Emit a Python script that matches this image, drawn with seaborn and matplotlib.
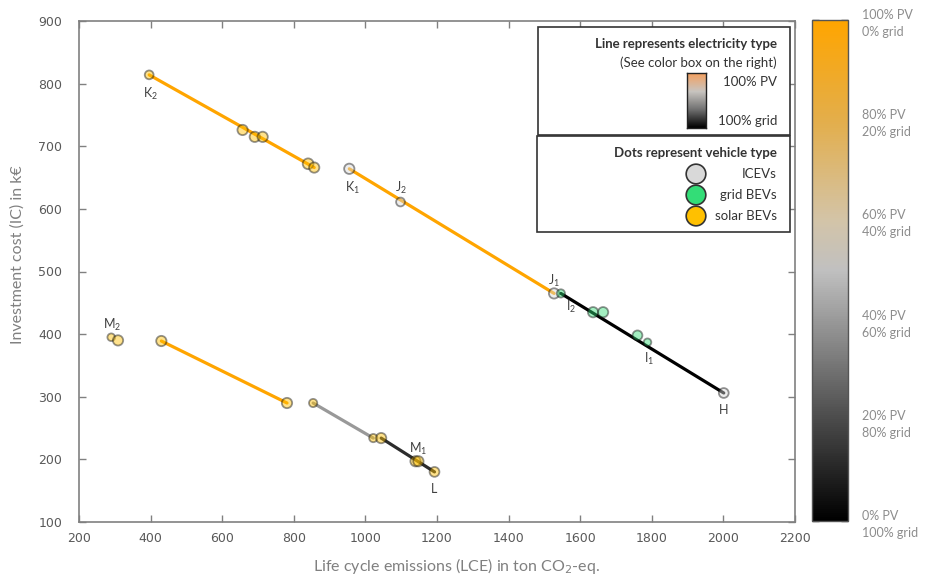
import numpy as np
import pandas as pd
import matplotlib
matplotlib.use("Agg")
import matplotlib.pyplot as plt
import seaborn as sns
from matplotlib.colors import LinearSegmentedColormap, Normalize
from matplotlib.patches import Rectangle
import matplotlib.colorbar as mcolorbar

# ---------------- data ----------------
point_names = ["K2", "a1", "a2", "a3", "a4", "a5", "K1", "J2", "J1", "I2", "b1", "b2", "b3", "I1", "H",
               "M2", "c1", "c2", "c3", "c4", "c5", "c6", "M1", "c7", "L"]
lce = [396, 657, 691, 713, 840, 857, 955, 1098, 1527, 1546, 1636, 1664, 1760, 1788, 2001,
       290, 309, 430, 781, 854, 1022, 1044, 1140, 1148, 1193]
ic = [814, 726, 715, 715, 672, 666, 664, 611, 465, 465, 435, 435, 398, 387, 306,
      395, 390, 389, 290, 290, 234, 234, 197, 197, 180]
vtype = ["solar BEVs"] * 6 + ["ICEVs", "ICEVs", "ICEVs"] + ["grid BEVs"] * 5 + ["ICEVs"] + ["solar BEVs"] * 10
msize = [40, 55, 55, 55, 60, 55, 55, 40, 55, 35, 55, 55, 50, 30, 50,
         30, 55, 55, 55, 35, 35, 55, 55, 55, 50]

# line segments: start point, end point, PV share (%)
seg_start = ["K2", "K1", "I2", "c2", "c4", "c6"]
seg_end = ["a5", "J1", "H", "c3", "c5", "L"]
seg_pv = [100, 100, 0, 100, 40, 12]

labels_txt = {"K2": r"$\mathregular{K_2}$", "K1": r"$\mathregular{K_1}$", "J2": r"$\mathregular{J_2}$",
              "J1": r"$\mathregular{J_1}$", "I2": r"$\mathregular{I_2}$", "I1": r"$\mathregular{I_1}$",
              "H": "H", "M2": r"$\mathregular{M_2}$", "M1": r"$\mathregular{M_1}$", "L": "L"}
label_offsets = {"K2": (1, -14), "K1": (2, -14), "J2": (0, 10), "J1": (0, 9), "I2": (7, -10),
                 "I1": (1, -12), "H": (0, -12), "M2": (1, 9), "M1": (2, 9), "L": (0, -12)}

cbar_ticks = [0, 20, 40, 60, 80, 100]
cbar_labels = ["0% PV\n100% grid", "20% PV\n80% grid", "40% PV\n60% grid",
               "60% PV\n40% grid", "80% PV\n20% grid", "100% PV\n0% grid"]

type_colors = {"ICEVs": "#D9D9D9", "grid BEVs": "#33DD77", "solar BEVs": "#FFC000"}

df = pd.DataFrame({"name": point_names, "LCE": lce, "IC": ic, "type": vtype, "size": msize})

# ---------------- style ----------------
sns.set_theme(style="white")
plt.rcParams["font.family"] = ["DejaVu Sans"]
LABEL_FONT = ["Lato", "DejaVu Sans"]

W, H = 925, 577
fig = plt.figure(figsize=(W / 100, H / 100), dpi=100)
fig.patch.set_facecolor("white")

def fx(px):
    return px / W

def fy(py):
    return 1 - py / H

ax = fig.add_axes([fx(79), fy(522), fx(795) - fx(79), fy(21) - fy(522)])

pv_cmap = LinearSegmentedColormap.from_list(
    "pv", [(0.0, "#000000"), (0.2, "#4A4A4A"), (0.4, "#999999"), (0.5, "#C0C0C0"),
           (0.6, "#D3C4A8"), (0.8, "#E3AE4B"), (1.0, "#FFA500")])

# lines
for s, e, pv in zip(seg_start, seg_end, seg_pv):
    sub = df[df["name"].isin([s, e])]
    sns.lineplot(data=sub, x="LCE", y="IC", ax=ax, color=pv_cmap(pv / 100), lw=2.3,
                 sort=False, estimator=None, zorder=2, legend=False)

# points
sns.scatterplot(data=df, x="LCE", y="IC", hue="type", palette=type_colors, size="size",
                sizes=(min(msize), max(msize)), size_norm=(min(msize), max(msize)),
                alpha=0.45, edgecolor="#111111", linewidth=1.3, ax=ax, legend=False, zorder=3)

# point labels
for nm, txt in labels_txt.items():
    r = df[df["name"] == nm].iloc[0]
    ax.annotate(txt, (r["LCE"], r["IC"]), xytext=label_offsets[nm], textcoords="offset points",
                ha="center", va="center", fontsize=9, color="#404040", family=LABEL_FONT)

ax.set_xlim(200, 2200)
ax.set_ylim(100, 900)
ax.set_xticks(range(200, 2201, 200))
ax.set_yticks(range(100, 901, 100))
ax.tick_params(axis="both", direction="in", length=5, width=1, color="#808080",
               labelsize=9, labelcolor="#595959", top=True, right=True, bottom=True, left=True)
ax.tick_params(axis="x", pad=7)
ax.tick_params(axis="y", pad=12)
for sp in ax.spines.values():
    sp.set_visible(True)
    sp.set_color("#808080")
    sp.set_linewidth(1.2)
ax.set_xlabel("")
ax.set_ylabel("")
ax.grid(False)

fig.text(fx(457), fy(566), r"Life cycle emissions (LCE) in ton CO$_2$-eq.", ha="center", va="center",
         fontsize=11.5, color="#808080", family=LABEL_FONT)
fig.text(fx(18), fy(255), "Investment cost (IC) in k€", ha="center", va="center", rotation=90,
         fontsize=11.5, color="#808080", family=LABEL_FONT)

# ---------------- legend boxes ----------------
box_kw = dict(transform=fig.transFigure, fill=True, facecolor="white", edgecolor="#333333",
              linewidth=1.2, zorder=5)
fig.patches.append(Rectangle((fx(538), fy(135)), fx(790) - fx(538), fy(27) - fy(135), **box_kw))
fig.patches.append(Rectangle((fx(537), fy(232)), fx(790) - fx(537), fy(136) - fy(232), **box_kw))

tx = fx(777)
tkw = dict(ha="right", va="center", family=LABEL_FONT, color="#333333", zorder=6)
fig.text(tx, fy(44), "Line represents electricity type", fontsize=9.5, weight="bold", **tkw)
fig.text(tx, fy(63), "(See color box on the right)", fontsize=9.5, **tkw)
fig.text(tx, fy(82), "100% PV", fontsize=9.5, **tkw)
fig.text(tx, fy(121), "100% grid", fontsize=9.5, **tkw)
fig.text(tx, fy(153), "Dots represent vehicle type", fontsize=9.5, weight="bold", **tkw)
leg_names = ["ICEVs", "grid BEVs", "solar BEVs"]
leg_y = [174, 195, 216]
for nm, yy in zip(leg_names, leg_y):
    fig.text(tx, fy(yy), nm, fontsize=9.5, **tkw)

# small gradient bar in legend
gax = fig.add_axes([fx(687), fy(128), fx(706) - fx(687), fy(73) - fy(128)], zorder=7)
leg_cmap = LinearSegmentedColormap.from_list("legpv", ["#000000", "#707070", "#C8C4C0", "#F4A060"])
gax.imshow(np.linspace(0, 1, 100)[:, None], aspect="auto", cmap=leg_cmap, origin="lower")
gax.set_xticks([])
gax.set_yticks([])
for sp in gax.spines.values():
    sp.set_color("#222222")
    sp.set_linewidth(1.0)

# legend circles
lax = fig.add_axes([fx(680), fy(230), fx(712) - fx(680), fy(160) - fy(230)], zorder=7)
lax.set_xlim(0, 1)
lax.set_ylim(230, 160)
leg_df = pd.DataFrame({"x": [0.5] * 3, "y": leg_y, "type": leg_names})
sns.scatterplot(data=leg_df, x="x", y="y", hue="type", palette=type_colors, s=200,
                edgecolor="#333333", linewidth=1.2, ax=lax, legend=False)
lax.axis("off")

# ---------------- colorbar ----------------
cax = fig.add_axes([fx(812), fy(521), fx(848) - fx(812), fy(20) - fy(521)])
cb = mcolorbar.ColorbarBase(cax, cmap=pv_cmap, norm=Normalize(0, 100), ticks=cbar_ticks,
                            orientation="vertical")
cb.outline.set_edgecolor("#555555")
cb.outline.set_linewidth(1.0)
cax.set_yticklabels(cbar_labels)
cax.tick_params(axis="y", direction="in", length=5, width=1, color="#333333",
                left=True, right=True, labelleft=False, labelright=True, pad=10,
                labelsize=9, labelcolor="#8C8C8C")
for t in cax.get_yticklabels():
    t.set_family(LABEL_FONT)
    t.set_linespacing(1.5)
    t.set_ha("left")

fig.savefig("out.png", dpi=100, facecolor="white")
